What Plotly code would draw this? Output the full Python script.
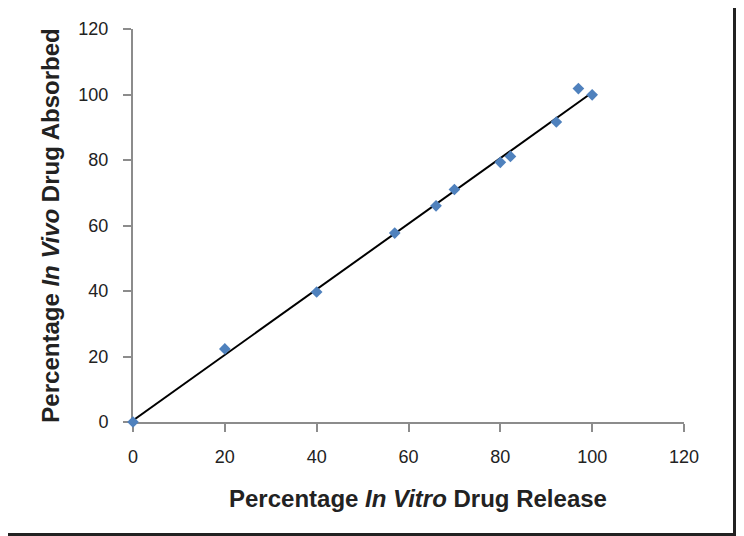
import numpy as np
import plotly.graph_objects as go

# Data
in_vitro_release = [0, 20, 40, 57, 66, 70, 80, 82.2, 92.2, 97, 100]
in_vivo_absorbed = [0, 22.3, 39.7, 57.7, 66, 71, 79.3, 81.1, 91.6, 101.8, 99.9]
tick_values = [0, 20, 40, 60, 80, 100, 120]
x_title = "Percentage <i>In Vitro</i> Drug Release"
y_title = "Percentage <i>In Vivo</i> Drug Absorbed"

# Linear trendline fitted to the data
slope, intercept = np.polyfit(in_vitro_release, in_vivo_absorbed, 1)
trend_x = [min(in_vitro_release), max(in_vitro_release)]
trend_y = [slope * v + intercept for v in trend_x]

# the page body adds an 8px margin around the figure
W, H = 736, 528
L, R, T, B = 125, 60, 21, 114
pw, ph = W - L - R, H - T - B

def px(x):
    return (x - L) / pw

def py(y):
    return (H - B - y) / ph

fig = go.Figure()
fig.add_trace(go.Scatter(x=trend_x, y=trend_y, mode="lines",
                         line=dict(color="black", width=2), hoverinfo="skip",
                         showlegend=False))
fig.add_trace(go.Scatter(x=in_vitro_release, y=in_vivo_absorbed, mode="markers",
                         marker=dict(symbol="diamond", size=9, color="#4F81BD"),
                         cliponaxis=False, showlegend=False))

frame_color = "#222222"
shapes = [
    dict(type="rect", xref="paper", yref="paper", x0=px(0), x1=px(728), y0=py(525), y1=py(H),
         fillcolor=frame_color, line_width=0),
    dict(type="rect", xref="paper", yref="paper", x0=px(725), x1=px(728), y0=py(0), y1=py(H),
         fillcolor=frame_color, line_width=0),
]

font_family = "Liberation Sans, Arial, Helvetica"
axis_common = dict(
    range=[0, 120], tickvals=tick_values, showgrid=False, zeroline=False,
    showline=True, linecolor="#8c8c8c", linewidth=2, layer="below traces",
    ticks="outside", ticklen=8, tickcolor="#8c8c8c", tickwidth=2,
    tickfont=dict(family=font_family, size=18, color="#222222"),
)

fig.update_layout(
    width=W, height=H,
    margin=dict(l=L, r=R, t=T, b=B, autoexpand=False),
    paper_bgcolor="white", plot_bgcolor="white",
    shapes=shapes,
    xaxis=dict(**axis_common, ticklabelstandoff=9),
    yaxis=dict(**axis_common, ticklabelstandoff=11,
               title=dict(text="<b>" + y_title + "</b>", standoff=12,
                          font=dict(family=font_family, size=24, color="#222222"))),
    annotations=[
        dict(text="<b>" + x_title + "</b>", xref="paper", yref="paper",
             x=px(410), y=py(490), xanchor="center", yanchor="middle",
             showarrow=False,
             font=dict(family=font_family, size=24, color="#222222")),
    ],
)

fig.write_html("out.html")
